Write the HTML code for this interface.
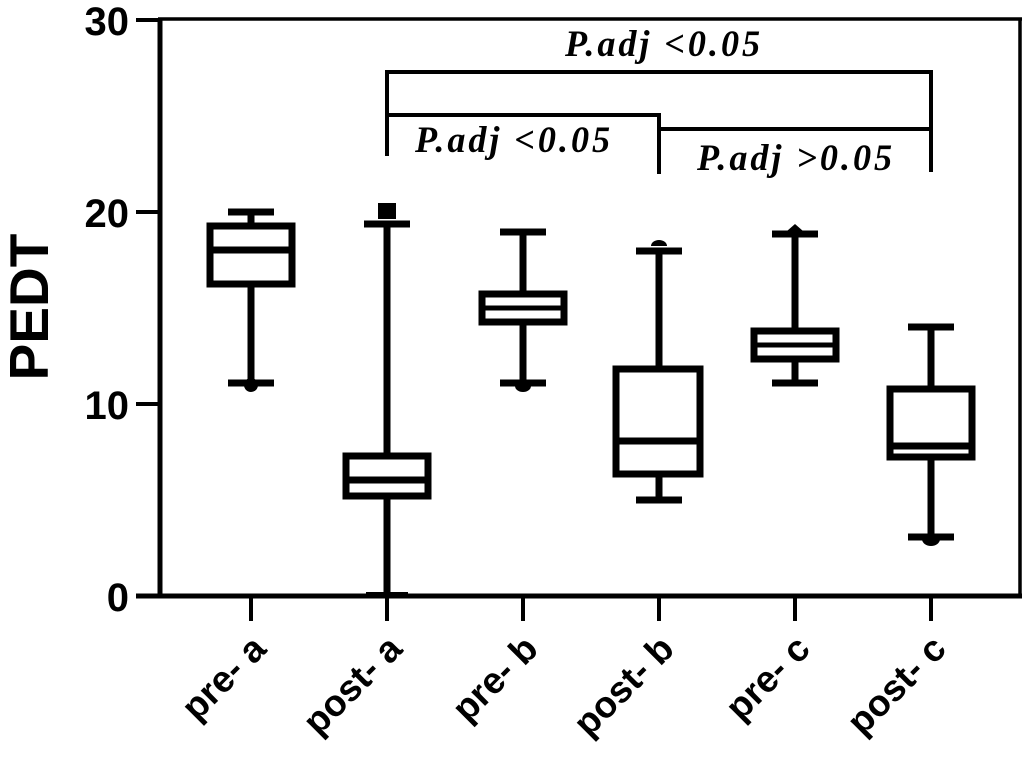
<!DOCTYPE html>
<html><head><style>html,body{margin:0;padding:0;background:#fff}</style></head>
<body>
<svg width="1030" height="775" xmlns="http://www.w3.org/2000/svg">
<g stroke="#000" fill="none" stroke-linecap="butt">
<line x1="160" y1="19" x2="160" y2="598" stroke-width="5"/>
<line x1="136" y1="596" x2="1022" y2="596" stroke-width="5"/>
<line x1="158" y1="19" x2="1022" y2="19" stroke-width="3.5"/>
<line x1="1020" y1="18" x2="1020" y2="598" stroke-width="3.5"/>
<line x1="136" y1="20" x2="160" y2="20" stroke-width="4"/>
<line x1="136" y1="212" x2="160" y2="212" stroke-width="4"/>
<line x1="136" y1="404" x2="160" y2="404" stroke-width="4"/>
<g stroke-width="4">
<line x1="251" y1="596" x2="251" y2="621"/><line x1="387" y1="596" x2="387" y2="621"/>
<line x1="523" y1="596" x2="523" y2="621"/><line x1="659" y1="596" x2="659" y2="621"/>
<line x1="795" y1="596" x2="795" y2="621"/><line x1="931" y1="596" x2="931" y2="621"/>
</g>
<g stroke-width="4">
<polyline points="387,156 387,72 931,72 931,172"/>
<polyline points="387,115 659,115 659,174"/>
<line x1="659" y1="129" x2="931" y2="129"/>
</g>
<g stroke-width="7">
<line x1="251" y1="212" x2="251" y2="227"/><line x1="251" y1="284" x2="251" y2="383"/>
<line x1="228" y1="212" x2="274" y2="212"/><line x1="228" y1="383" x2="274" y2="383"/>
<rect x="210" y="226" width="82" height="58"/><line x1="210" y1="250" x2="292" y2="250"/>
<line x1="387" y1="224" x2="387" y2="456"/><line x1="387" y1="496" x2="387" y2="596"/>
<line x1="364" y1="224" x2="410" y2="224"/><line x1="366" y1="594" x2="408" y2="594" stroke-width="4"/>
<rect x="346" y="456" width="82" height="40"/><line x1="346" y1="480" x2="428" y2="480"/>
<line x1="523" y1="232" x2="523" y2="294"/><line x1="523" y1="322" x2="523" y2="383"/>
<line x1="500" y1="232" x2="546" y2="232"/><line x1="500" y1="383" x2="546" y2="383"/>
<rect x="482" y="294" width="82" height="28"/><line x1="482" y1="308" x2="564" y2="308" stroke-width="5"/>
<line x1="659" y1="251" x2="659" y2="369"/><line x1="659" y1="474" x2="659" y2="500"/>
<line x1="636" y1="251" x2="682" y2="251"/><line x1="636" y1="500" x2="682" y2="500"/>
<rect x="616" y="369" width="84" height="105"/><line x1="616" y1="441" x2="700" y2="441"/>
<line x1="795" y1="234" x2="795" y2="331"/><line x1="795" y1="359" x2="795" y2="383"/>
<line x1="772" y1="234" x2="818" y2="234"/><line x1="772" y1="383" x2="818" y2="383"/>
<rect x="754" y="331" width="82" height="28"/><line x1="754" y1="345" x2="836" y2="345" stroke-width="5"/>
<line x1="931" y1="327" x2="931" y2="389"/><line x1="931" y1="457" x2="931" y2="537"/>
<line x1="908" y1="327" x2="954" y2="327"/><line x1="908" y1="537" x2="954" y2="537"/>
<rect x="890" y="389" width="82" height="68"/><line x1="890" y1="446" x2="972" y2="446"/>
</g>
</g>
<g fill="#000">
<circle cx="251" cy="385" r="7"/>
<rect x="378" y="203" width="18" height="16"/>
<path d="M515,386 a8,6 0 0 0 16,0 z"/>
<path d="M651,246 a8,6 0 0 1 16,0 z"/>
<path d="M787,231 l8,-7 l8,7 z"/>
<path d="M922,539 a9,7 0 0 0 18,0 z"/>
</g>
<g font-family="Liberation Serif, serif" font-weight="bold" font-style="italic" font-size="37" letter-spacing="3">
<text x="565" y="56" textLength="198" lengthAdjust="spacingAndGlyphs">P.adj &lt;0.05</text>
<text x="415" y="152" textLength="198" lengthAdjust="spacingAndGlyphs">P.adj &lt;0.05</text>
<text x="697" y="170" textLength="198" lengthAdjust="spacingAndGlyphs">P.adj &gt;0.05</text>
</g>
<g font-family="Liberation Sans, sans-serif" font-weight="bold" font-size="40" text-anchor="end">
<text x="129" y="35">30</text><text x="129" y="227">20</text>
<text x="129" y="419">10</text><text x="129" y="611">0</text>
</g>
<text transform="translate(48,307) rotate(-90)" font-family="Liberation Sans, sans-serif" font-weight="bold" font-size="55" text-anchor="middle">PEDT</text>
<g font-family="Liberation Sans, sans-serif" font-weight="bold" font-size="37" text-anchor="end">
<text transform="translate(268,651) rotate(-45)">pre- a</text>
<text transform="translate(404,651) rotate(-45)">post- a</text>
<text transform="translate(540,651) rotate(-45)">pre- b</text>
<text transform="translate(676,651) rotate(-45)">post- b</text>
<text transform="translate(812,651) rotate(-45)">pre- c</text>
<text transform="translate(948,651) rotate(-45)">post- c</text>
</g>
</svg>
</body></html>
